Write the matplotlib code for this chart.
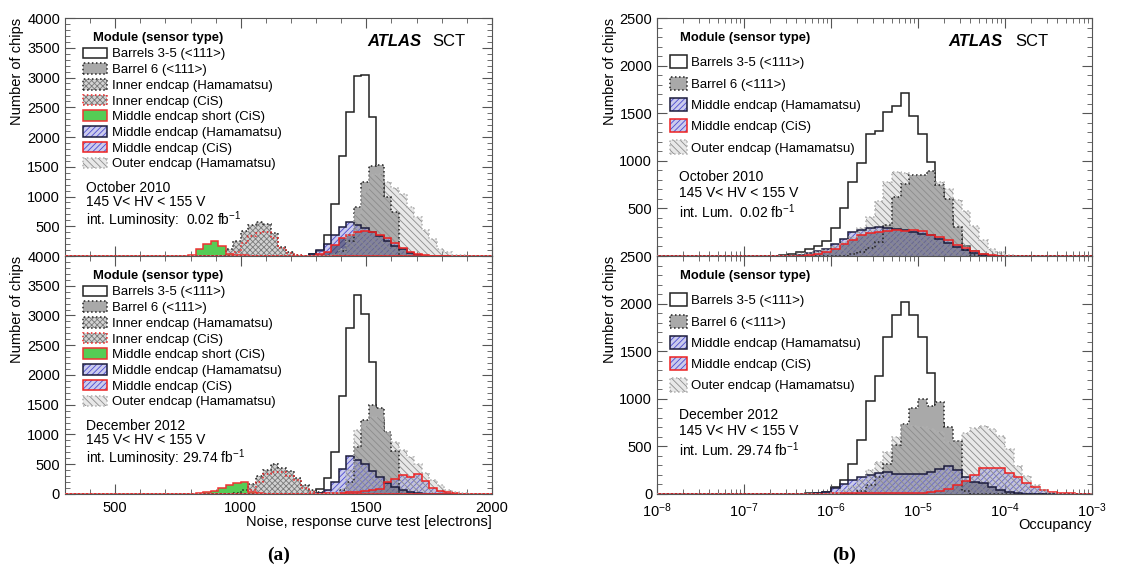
import numpy as np
import matplotlib
matplotlib.use('Agg')
import matplotlib.pyplot as plt
import matplotlib.patches as mpatches
from matplotlib.ticker import MultipleLocator, LogLocator, NullFormatter

plt.rcParams['font.family'] = ['Liberation Sans', 'DejaVu Sans']
plt.rcParams['mathtext.default'] = 'regular'
plt.rcParams['hatch.linewidth'] = 0.6

# ---------------- (a) noise, 30 electron bins ----------------
noise_edges = np.arange(280, 2021, 30)

# each series: low edge of first bin, then counts per bin
b35_oct_lo, b35_oct = 1270, [30, 80, 350, 880, 1685, 2425, 3030, 3045, 2340, 1250, 480, 130, 35]
b6_oct_lo, b6_oct = 1360, [30, 80, 250, 820, 1250, 1505, 1530, 1000, 740]
inh_oct_lo, inh_oct = 940, [120, 250, 420, 520, 565, 540, 380, 150, 65, 25]
inc_oct_lo, inc_oct = 970, [60, 220, 340, 395, 400, 310, 130, 45, 15]
sh_oct_lo, sh_oct = 790, [20, 110, 210, 260, 175, 40, 25, 10]
mh_oct_lo, mh_oct = 1270, [40, 100, 210, 350, 480, 575, 520, 470, 400, 330, 250, 175, 110, 50, 20]
mc_oct_lo, mc_oct = 1300, [34, 73, 185, 300, 354, 410, 421, 410, 354, 298, 225, 130, 73, 34, 17]
out_oct_lo, out_oct = 1360, [40, 120, 350, 700, 1080, 1360, 1370, 1250, 1140, 1050, 830, 660, 430, 290, 125, 65, 25, 10]

b35_dec_lo, b35_dec = 1270, [20, 90, 265, 700, 1650, 2790, 3350, 3017, 2215, 1250, 450, 130, 40]
b6_dec_lo, b6_dec = 1360, [20, 60, 200, 790, 1240, 1490, 1450, 1050, 720]
inh_dec_lo, inh_dec = 970, [20, 60, 160, 300, 410, 500, 440, 380, 270, 150, 70, 25]
inc_dec_lo, inc_dec = 1030, [60, 200, 330, 365, 365, 310, 240, 100, 40, 10]
sh_dec_lo, sh_dec = 820, [10, 40, 45, 100, 150, 185, 195, 30, 10]
mh_dec_lo, mh_dec = 1300, [20, 60, 200, 420, 640, 570, 500, 390, 290, 180, 120, 75, 40, 12]
mc_dec_lo, mc_dec = 1330, [10, 15, 20, 25, 35, 45, 60, 90, 200, 255, 325, 285, 335, 225, 95, 50, 30, 15]
out_dec_lo, out_dec = 1360, [20, 80, 400, 1070, 1150, 1300, 1300, 1040, 880, 740, 620, 500, 360, 240, 155, 75, 40, 15]

# ---------------- (b) occupancy, 0.1 decade bins ----------------
occ_exp = np.round(np.arange(-8, -2.95, 0.1), 1)
occ_edges = 10.0 ** occ_exp

# each series: log10 of first bin low edge, then counts
b35_oct_r_lo, b35_oct_r = -6.6, [10, 25, 45, 70, 110, 160, 295, 500, 780, 975, 1280, 1310, 1515, 1580, 1710,
                                 1475, 1280, 985, 700, 420, 230, 110, 50, 20]
b6_oct_r_lo, b6_oct_r = -5.8, [20, 40, 80, 150, 330, 620, 760, 850, 855, 890, 750, 600, 305, 60, 15]
mh_oct_r_lo, mh_oct_r = -6.4, [15, 30, 50, 77, 130, 182, 253, 270, 295, 305, 295, 288, 277, 253, 235, 218,
                               182, 140, 95, 60, 30, 15]
mc_oct_r_lo, mc_oct_r = -6.3, [10, 20, 42, 77, 130, 165, 218, 242, 253, 260, 270, 265, 277, 260, 218, 200,
                               165, 120, 84, 53, 25, 14]
out_oct_r_lo, out_oct_r = -6.4, [20, 30, 45, 60, 100, 150, 200, 290, 410, 580, 780, 880, 870, 840, 820, 800,
                                 780, 705, 585, 470, 310, 165, 75, 40, 15, 5]

b35_dec_r_lo, b35_dec_r = -6.4, [5, 10, 15, 25, 77, 147, 316, 568, 972, 1235, 1649, 1884, 2014, 1884, 1646,
                                 1270, 750, 380, 150, 50, 15]
b6_dec_r_lo, b6_dec_r = -5.7, [30, 90, 180, 320, 510, 730, 900, 1000, 920, 970, 700, 560, 30]
mh_dec_r_lo, mh_dec_r = -6.3, [5, 10, 25, 60, 110, 145, 180, 200, 220, 235, 205, 205, 210, 215, 235, 260,
                               290, 250, 180, 130, 120, 75, 40, 25, 12]
mc_dec_r_lo, mc_dec_r = -6.4, [3, 4, 5, 5, 6, 6, 7, 7, 8, 8, 9, 10, 10, 12, 14, 25, 35, 55, 90, 140, 200,
                               270, 270, 270, 225, 175, 112, 75, 38, 25, 14, 7]
out_dec_r_lo, out_dec_r = -6.0, [15, 40, 80, 150, 250, 340, 440, 600, 720, 710, 700, 680, 650, 550, 560, 640,
                                 695, 712, 680, 610, 470, 290, 185, 95, 42, 15]


def on_grid(grid, lo, counts):
    full = np.zeros(len(grid) - 1)
    i = int(np.argmin(np.abs(grid - lo)))
    full[i:i + len(counts)] = counts
    return full


# styles: face, hatch, hatch colour, edge colour, edge style, zorder of the fill
STY = {
    'b35': (None, None, None, '#222222', '-', 1),
    'b6': ('#a9a9a9', None, None, '#222222', ':', 2),
    'inh': ('#d2d2d2', 'xxxxxx', '#7a7a7a', '#222222', ':', 4),
    'inc': ('#d2d2d2', 'xxxxxx', '#7a7a7a', '#ee2222', ':', 5),
    'mh': ((0.55, 0.55, 0.85, 0.45), '//////', '#4a4ad0', '#1c1c3c', '-', 6),
    'mc': ((0.55, 0.55, 0.85, 0.45), '//////', '#4a4ad0', '#ee2222', '-', 7),
    'sh': ('#55cc55', None, None, '#ee3333', '-', 8),
    'out': ((0.7, 0.7, 0.7, 0.3), '\\\\\\\\\\', '#8c8c8c', '#b0b0b0', ':', 8.8),
}


def draw(ax, edges, vals, key):
    face, hatch, hc, ec, ls, z = STY[key]
    if face is not None:
        ax.stairs(vals, edges, fill=True, facecolor=face, edgecolor=hc if hc else 'none',
                  hatch=hatch, linewidth=0, zorder=z)
    zl = 1.5 if key == 'b35' else 10 + z
    ax.stairs(vals, edges, fill=False, color=ec, linestyle=ls, linewidth=1.1, zorder=zl)


def draw_overlap(ax, edges, a, b):
    # where both middle endcap histograms overlap the picture darkens
    ax.stairs(np.minimum(a, b), edges, fill=True, facecolor='#6e6e94', edgecolor='#44447a',
              hatch='//////', linewidth=0, zorder=7.5)


def handle(key):
    face, hatch, hc, ec, ls, z = STY[key]
    f = mpatches.Patch(facecolor=face if face is not None else 'white',
                       edgecolor=hc if hc else 'none', hatch=hatch, linewidth=0)
    o = mpatches.Patch(facecolor='none', edgecolor=ec, linestyle=ls, linewidth=1.1)
    return (f, o)


fig = plt.figure(figsize=(11.26, 5.74), dpi=100)
L, W = 0.0577, 0.3792
R, WR = 0.5835, 0.3863
BT, BB, H = 0.554, 0.1394, 0.4146
ax_a1 = fig.add_axes([L, BT, W, H])
ax_a2 = fig.add_axes([L, BB, W, H])
ax_b1 = fig.add_axes([R, BT, WR, H])
ax_b2 = fig.add_axes([R, BB, WR, H])

noise_sets = [
    (ax_a1, [('b35', b35_oct_lo, b35_oct), ('b6', b6_oct_lo, b6_oct), ('out', out_oct_lo, out_oct),
             ('inh', inh_oct_lo, inh_oct), ('inc', inc_oct_lo, inc_oct), ('mh', mh_oct_lo, mh_oct),
             ('mc', mc_oct_lo, mc_oct), ('sh', sh_oct_lo, sh_oct)]),
    (ax_a2, [('b35', b35_dec_lo, b35_dec), ('b6', b6_dec_lo, b6_dec), ('out', out_dec_lo, out_dec),
             ('inh', inh_dec_lo, inh_dec), ('inc', inc_dec_lo, inc_dec), ('mh', mh_dec_lo, mh_dec),
             ('mc', mc_dec_lo, mc_dec), ('sh', sh_dec_lo, sh_dec)]),
]
occ_sets = [
    (ax_b1, [('b35', b35_oct_r_lo, b35_oct_r), ('b6', b6_oct_r_lo, b6_oct_r), ('out', out_oct_r_lo, out_oct_r),
             ('mh', mh_oct_r_lo, mh_oct_r), ('mc', mc_oct_r_lo, mc_oct_r)]),
    (ax_b2, [('b35', b35_dec_r_lo, b35_dec_r), ('b6', b6_dec_r_lo, b6_dec_r), ('out', out_dec_r_lo, out_dec_r),
             ('mh', mh_dec_r_lo, mh_dec_r), ('mc', mc_dec_r_lo, mc_dec_r)]),
]
for sets_list, edges, grid in ((noise_sets, noise_edges, noise_edges), (occ_sets, occ_edges, occ_exp)):
    for ax, sets in sets_list:
        full = {}
        for key, lo, c in sets:
            full[key] = on_grid(grid, lo, c)
            draw(ax, edges, full[key], key)
        draw_overlap(ax, edges, full['mh'], full['mc'])

# axes cosmetics
for ax in (ax_a1, ax_a2):
    ax.set_xlim(300, 2000)
    ax.set_ylim(0, 4000)
    ax.xaxis.set_major_locator(MultipleLocator(500))
    ax.xaxis.set_minor_locator(MultipleLocator(100))
    ax.yaxis.set_minor_locator(MultipleLocator(100))
for ax in (ax_b1, ax_b2):
    ax.set_xscale('log')
    ax.set_xlim(1e-8, 1e-3)
    ax.set_ylim(0, 2500)
    ax.xaxis.set_major_locator(LogLocator(base=10, numticks=10))
    ax.xaxis.set_minor_locator(LogLocator(base=10, subs=np.arange(2, 10), numticks=20))
    ax.xaxis.set_minor_formatter(NullFormatter())
    ax.yaxis.set_minor_locator(MultipleLocator(100))
ax_a1.set_yticks(np.arange(500, 4001, 500))
ax_a2.set_yticks(np.arange(0, 4001, 500))
ax_b1.set_yticks(np.arange(500, 2501, 500))
ax_b2.set_yticks(np.arange(0, 2501, 500))

for ax in (ax_a1, ax_a2, ax_b1, ax_b2):
    ax.tick_params(which='both', direction='in', top=True, right=True, colors='#555555',
                   labelcolor='black', labelsize=10.5)
    ax.tick_params(which='major', length=7)
    ax.tick_params(which='minor', length=3.5)
    ax.tick_params(axis='x', pad=5)
    for s in ax.spines.values():
        s.set_color('#555555')
    ax.set_ylabel('Number of chips', fontsize=10.5, loc='top', labelpad=2)
ax_a1.tick_params(labelbottom=False)
ax_b1.tick_params(labelbottom=False)

ax_a2.set_xlabel('Noise, response curve test [electrons]', fontsize=10.5, loc='right', labelpad=0)
ax_b2.set_xlabel('Occupancy', fontsize=10.5, loc='right', labelpad=-1)

# legends
noise_keys = ['b35', 'b6', 'inh', 'inc', 'sh', 'mh', 'mc', 'out']
noise_labels = ['Barrels 3-5 (<111>)', 'Barrel 6 (<111>)', 'Inner endcap (Hamamatsu)', 'Inner endcap (CiS)',
                'Middle endcap short (CiS)', 'Middle endcap (Hamamatsu)', 'Middle endcap (CiS)',
                'Outer endcap (Hamamatsu)']
occ_keys = ['b35', 'b6', 'mh', 'mc', 'out']
occ_labels = ['Barrels 3-5 (<111>)', 'Barrel 6 (<111>)', 'Middle endcap (Hamamatsu)', 'Middle endcap (CiS)',
              'Outer endcap (Hamamatsu)']

for ax in (ax_a1, ax_a2):
    ax.legend([handle(k) for k in noise_keys], noise_labels, loc='upper left', bbox_to_anchor=(0.042, 0.876),
              frameon=False, fontsize=9.5, handlelength=1.82, handleheight=0.85, labelspacing=0.22,
              handletextpad=0.42, borderpad=0, borderaxespad=0)
    ax.text(0.066, 0.918, 'Module (sensor type)', transform=ax.transAxes, fontsize=9.4, fontweight='bold',
            va='center', ha='left')
for ax in (ax_b1, ax_b2):
    ax.legend([handle(k) for k in occ_keys], occ_labels, loc='upper left', bbox_to_anchor=(0.03, 0.843),
              frameon=False, fontsize=9.5, handlelength=1.28, handleheight=1.15, labelspacing=0.55,
              handletextpad=0.3, borderpad=0, borderaxespad=0)
    ax.text(0.053, 0.914, 'Module (sensor type)', transform=ax.transAxes, fontsize=9.4, fontweight='bold',
            va='center', ha='left')

# ATLAS label
for ax, xa, xs in ((ax_a1, 0.707, 0.86), (ax_b1, 0.669, 0.823)):
    ax.text(xa, 0.9, 'ATLAS', transform=ax.transAxes, fontsize=12, fontweight='bold', fontstyle='italic',
            va='center', ha='left')
    ax.text(xs, 0.9, 'SCT', transform=ax.transAxes, fontsize=12, va='center', ha='left')

info = [
    (ax_a1, 0.049, 0.315, 1.0, 'October 2010\n145 V< HV < 155 V\nint. Luminosity:  0.02 fb$^{-1}$'),
    (ax_a2, 0.049, 0.315, 1.0, 'December 2012\n145 V< HV < 155 V\nint. Luminosity: 29.74 fb$^{-1}$'),
    (ax_b1, 0.05, 0.361, 1.16, 'October 2010\n145 V< HV < 155 V\nint. Lum.  0.02 fb$^{-1}$'),
    (ax_b2, 0.05, 0.361, 1.16, 'December 2012\n145 V< HV < 155 V\nint. Lum. 29.74 fb$^{-1}$'),
]
for ax, x, y, ls, t in info:
    ax.text(x, y, t, transform=ax.transAxes, fontsize=10, va='top', ha='left', linespacing=ls)

fig.text(0.2478, 0.033, '(a)', fontsize=14, fontweight='bold', family='Liberation Serif', ha='center',
         va='center')
fig.text(0.7496, 0.033, '(b)', fontsize=14, fontweight='bold', family='Liberation Serif', ha='center',
         va='center')

fig.savefig('out.png', dpi=100)
